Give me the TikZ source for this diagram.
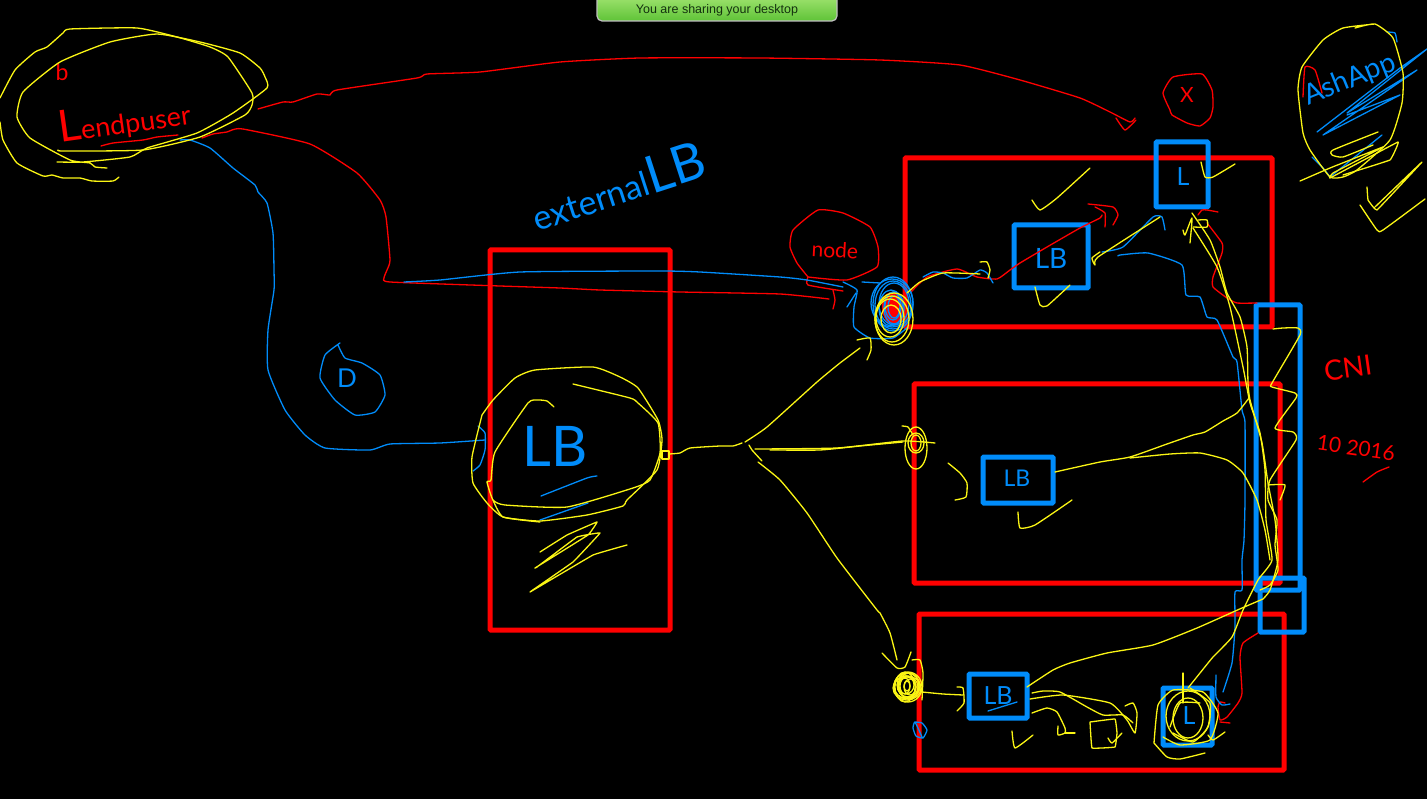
\documentclass[tikz,border=0pt]{standalone}
\usepackage{fontspec}
\setmainfont{Liberation Sans}
\newfontfamily\handfont{Lato}
\definecolor{penred}{RGB}{255,0,0}
\definecolor{penblue}{RGB}{0,140,250}
\definecolor{penyellow}{RGB}{250,245,20}
\definecolor{bartop}{RGB}{175,235,125}
\definecolor{barbot}{RGB}{95,195,55}
\definecolor{bartext}{RGB}{20,50,15}

\begin{document}
\begin{tikzpicture}[x=1pt,y=-1pt,
	pen/.style={line width=1.3pt,line cap=round,line join=round,smooth,tension=.3},
	redpen/.style={pen,draw=penred},
	bluepen/.style={pen,draw=penblue},
	yellowpen/.style={pen,draw=penyellow},
	redbox/.style={draw=penred,line width=5pt,rounded corners=1pt},
	bluebox/.style={draw=penblue,line width=5pt,rounded corners=1pt},
	hand/.style={font=\handfont,inner sep=0pt}]
	\fill[black] (0,0) rectangle (1427,799);
	\useasboundingbox (0,0) rectangle (1427,799);
	\begin{scope}[every path/.append style={redbox}]
		\draw (490,250) rectangle (670,630);
		\draw (905,158) rectangle (1272,327);
		\draw (914,384) rectangle (1280,583);
		\draw (919,614) rectangle (1284,770);
	\end{scope}
	\begin{scope}[every path/.append style={bluebox}]
		\draw (1156,142) rectangle (1208,207);
		\draw (1014,225) rectangle (1088,288);
		\draw (983,457) rectangle (1053,503);
		\draw (969,674) rectangle (1027,718);
		\draw (1163,688) rectangle (1212,745);
		\draw (1256,305) rectangle (1300,590);
		\draw (1260,578) rectangle (1304,632);
	\end{scope}

	\shade[top color=bartop,bottom color=barbot,draw=lightgray,line width=1.2pt,rounded corners=5pt]
		(597,-10) rectangle (837,21);
	\node[text=bartext,font=\fontsize{12.5}{14}\selectfont,inner sep=0pt] (sharebar) at (717,10) {You are sharing your desktop};

	\begin{scope}[every node/.style={hand,text=penred}]
		\node[font=\handfont\fontsize{23}{23}\selectfont] (userb) at (62,72) {b};
		\node[font=\handfont\fontsize{27}{27}\selectfont,rotate=8] (userlabel) at (124,120) {{\fontsize{44}{44}\selectfont L}endpuser};
		\node[font=\handfont\fontsize{21}{21}\selectfont,rotate=-3] (nodelabel) at (835,250) {node};
		\node[font=\handfont\fontsize{21}{21}\selectfont] (xlabel) at (1187,95) {X};
		\node[font=\handfont\fontsize{28}{28}\selectfont,rotate=8] (cnilabel) at (1348,368) {CNI};
		\node[font=\handfont\fontsize{21}{21}\selectfont,rotate=-8] (datelabel) at (1356,448) {10 2016};
	\end{scope}
	\begin{scope}[every node/.style={hand,text=penblue}]
		\node[font=\handfont\fontsize{34}{34}\selectfont,rotate=18] (extlabel) at (618,186) {external{\fontsize{52}{52}\selectfont LB}};
		\node[font=\handfont\fontsize{26}{26}\selectfont] (dlabel) at (347,378) {D};
		\node[font=\handfont\fontsize{56}{56}\selectfont] (biglb) at (555,446) {LB};
		\node[font=\handfont\fontsize{28}{28}\selectfont] (lbone) at (1051,258) {LB};
		\node[font=\handfont\fontsize{23}{23}\selectfont] (lbtwo) at (1017,478) {LB};
		\node[font=\handfont\fontsize{25}{25}\selectfont] (lbthree) at (998,696) {LB};
		\node[font=\handfont\fontsize{25}{25}\selectfont] (ltop) at (1183,177) {L};
		\node[font=\handfont\fontsize{25}{25}\selectfont] (lbot) at (1189,716) {L};
		\node[font=\handfont\fontsize{28}{28}\selectfont,rotate=22] (applabel) at (1350,80) {AshApp};
	\end{scope}

	\draw[redpen] plot coordinates {(101,146)(113,143)(143,140)(157,137)(178,135)};
	\draw[redpen] plot coordinates {(258,109)(283,102)(293,102)(317,94)(330,95)(337,90)(417,78)(427,74)(480,72)(560,62)(640,58)(760,58)(880,60)(960,65)(1020,80)(1080,98)(1110,112)(1130,122)(1135,118)};
	\draw[redpen] plot coordinates {(1116,118)(1125,130)(1136,120)};
	\draw[redpen] plot coordinates {(202,138)(213,134)(227,132)(232,130)(243,129)(310,144)(357,173)(380,200)(386,217)(390,260)(387,270)(384,278)(390,282)(500,286)(560,288)(600,290)(680,292)(780,294)(829,299)};
	\draw[redpen] plot coordinates {(833,290)(835,300)(833,309)};
	\draw[redpen] plot coordinates {(808,277)(808,285)(843,291)};
	\draw[redpen] plot coordinates {(808,277)(797,263)(790,247)(793,230)(818,210)(843,213)(870,227)(878,247)(877,267)(847,280)(808,277)};
	\draw[redpen] plot coordinates {(1170,110)(1163,93)(1173,77)(1202,74)(1212,90)(1213,107)(1210,118)(1200,126)(1187,123)(1172,115)(1170,110)};
	\draw[redpen] plot coordinates {(910,293)(927,277)(957,269)(977,277)(997,279)(1010,270)(1020,263)(1047,247)(1080,228)(1100,218)(1102,215)};
	\draw[redpen] plot coordinates {(1088,204)(1113,207)(1118,215)(1113,225)};
	\draw[redpen] plot coordinates {(1095,207)(1105,213)(1105,227)};
	\draw[redpen] plot coordinates {(1198,215)(1202,210)(1207,210)(1218,212)};
	\draw[redpen] plot coordinates {(1207,223)(1222,243)(1222,253)(1213,277)(1213,287)(1227,298)(1237,303)(1257,303)};
	\draw[redpen] plot coordinates {(1258,633)(1243,643)(1240,657)(1242,693)(1238,703)(1227,717)(1220,720)(1218,707)(1220,702)(1225,703)};
	\draw[redpen] plot coordinates {(1220,722)(1230,723)};
	\draw[redpen] plot coordinates {(1303,97)(1305,67)(1315,70)(1322,93)};
	\draw[redpen] plot coordinates {(1363,482)(1377,472)(1389,467)};

	\fill[penred,rotate around={10:(893,309)}] (893,309) ellipse (11 and 17);

	\draw[bluepen] plot coordinates {(180,140)(190,140)(210,148)(233,168)(255,185)(258,192)(267,203)(273,233)(274,270)(274,290)(268,330)(268,370)(285,410)(305,435)(325,448)(370,450)(390,444)(440,443)(485,440)};
	\draw[bluepen] plot coordinates {(478,426)(485,433)(485,450)(480,465)(473,471)};
	\draw[bluepen] plot coordinates {(340,343)(325,355)(320,378)(335,400)(355,415)(375,412)(385,395)(380,375)(362,363)(345,358)(338,345)};
	\draw[bluepen] plot coordinates {(404,282)(440,280)(520,272)(660,271)(700,272)(780,277)(807,280)(843,287)};
	\draw[bluepen] plot coordinates {(843,282)(857,290)(854,307)(854,327)(870,338)(893,338)(908,327)};
	\draw[bluepen] plot coordinates {(862,282)(880,283)};
	\draw[bluepen] plot coordinates {(847,307)(856,293)};
	\draw[bluepen] plot coordinates {(923,277)(933,272)(943,273)(953,278)(967,278)(980,270)(987,273)(993,283)};
	\draw[bluepen] plot coordinates {(1102,252)(1123,247)(1153,217)(1162,217)(1165,230)};
	\draw[bluepen] plot coordinates {(1118,256)(1120,255)(1148,253)(1182,265)(1186,295)(1200,297)(1207,317)(1217,320)(1233,357)(1237,362)(1242,410)(1245,423)(1245,500)(1244,540)(1242,560)(1242,590)(1235,592)(1235,627)(1232,663)(1223,692)};
	\draw[bluepen] plot coordinates {(1216,675)(1216,697)(1222,705)(1230,704)};
	\draw[bluepen] plot coordinates {(541,496)(587,478)(597,476)};
	\draw[bluepen] plot coordinates {(540,520)(588,503)};
	\draw[bluepen] plot coordinates {(988,711)(1017,702)};
	\draw[bluepen] plot coordinates {(915,722)(922,723)(927,730)(923,738)(916,736)(913,728)(915,722)(922,737)};
	\draw[bluepen,tension=0] plot coordinates {(1317,132)(1400,68)(1427,49)(1347,113)(1417,70)(1323,135)(1400,95)(1347,115)};
	\draw[bluepen] plot coordinates {(1382,135)(1330,177)};
	\draw[bluepen] plot coordinates {(1312,157)(1323,168)(1330,177)};
	\draw[bluepen] plot coordinates {(1387,32)(1395,33)(1397,42)};
	\foreach \rx/\ry/\dx/\dy in {6/11/1/1,8/14/0/0,10/16/1/2,12/18/-2/2,15/21/1/-2,18/24/0/-1,20/27/0/-2,21/24/-1/-3} {
		\draw[bluepen] (893+\dx,306+\dy) ellipse (\rx pt and \ry pt);
	}

	\foreach \rx/\ry/\dx/\dy in {10/14/-2/6,14/19/-3/5,17/23/-1/6,19/26/1/6} {
		\draw[yellowpen] (893+\dx,313+\dy) ellipse (\rx pt and \ry pt);
	}
	\draw[yellowpen] plot coordinates {(0,98)(15,70)(35,52)(47,47)(63,33)(70,29)(137,28)(177,37)(210,47)(228,57)(252,93)(252,105)(245,115)(200,137)(143,150)(63,151)(58,150)};
	\draw[yellowpen] plot coordinates {(57,162)(83,162)(130,157)(147,148)(197,133)(233,113)(267,88)(265,77)(260,68)(240,53)(200,42)(157,34)(110,42)(60,62)(23,92)(17,117)(30,138)(70,160)(90,163)(95,167)(107,168)};
	\draw[yellowpen] plot coordinates {(0,122)(3,140)(17,163)(43,176)(52,175)(63,178)(80,178)(92,181)(113,181)(119,177)};
	\draw[yellowpen] plot coordinates {(907,293)(920,282)(943,273)(980,274)};
	\draw[yellowpen] plot coordinates {(980,262)(987,262)(990,270)(988,278)};
	\draw[yellowpen] plot coordinates {(1032,200)(1040,210)(1057,198)(1090,168)};
	\draw[yellowpen] plot coordinates {(1035,287)(1040,305)(1047,306)(1070,285)};
	\draw[yellowpen] plot coordinates {(1100,252)(1092,258)(1095,265)(1098,257)(1160,217)};
	\draw[yellowpen] plot coordinates {(1201,162)(1205,177)(1213,177)(1235,164)};
	\draw[yellowpen] plot coordinates {(1192,213)(1210,240)(1220,267)(1227,293)(1240,317)(1247,347)(1248,383)(1250,400)(1262,443)(1268,483)(1275,520)(1278,560)(1270,590)(1263,599)};
	\draw[yellowpen] plot coordinates {(1193,228)(1217,267)(1230,307)(1243,367)(1250,403)(1260,433)(1265,470)(1266,520)(1272,560)(1258,580)(1243,610)(1232,637)(1213,657)(1200,673)(1188,688)};
	\draw[yellowpen] plot coordinates {(1027,687)(1053,670)(1070,663)(1107,653)(1153,645)(1197,628)(1242,608)(1263,599)};
	\draw[yellowpen] plot coordinates {(1183,230)(1185,235)(1192,218)(1190,243)};
	\draw[yellowpen] plot coordinates {(1193,227)(1207,227)(1207,220)(1198,220)};
	\draw[yellowpen] plot coordinates {(1273,329)(1283,328)(1298,328)(1300,335)(1272,383)(1272,387)(1295,393)(1296,398)(1275,428)(1293,432)(1296,440)(1270,480)(1268,500)(1277,520)(1275,545)(1278,570)(1270,585)(1260,590)};
	\draw[yellowpen] plot coordinates {(1268,485)(1285,485)(1280,500)};
	\draw[yellowpen] plot coordinates {(1055,472)(1100,462)(1130,457)(1167,444)(1193,435)(1205,432)(1223,421)(1237,413)(1249,398)};
	\draw[yellowpen] plot coordinates {(1130,458)(1170,454)(1200,453)(1227,460)(1243,473)(1257,500)(1265,530)(1270,560)};
	\draw[yellowpen] (662,451) rectangle (669,459);
	\draw[yellowpen] plot coordinates {(669,454)(680,453)(690,448)(720,446)(733,446)(742,443)};
	\draw[yellowpen] plot coordinates {(745,442)(767,427)(817,382)(840,363)(860,348)};
	\draw[yellowpen] plot coordinates {(857,340)(870,338)(871,350)(867,360)};
	\draw[yellowpen] plot coordinates {(755,449)(837,448)(903,441)(935,443)};
	\draw[yellowpen] plot coordinates {(770,450)(820,450)(860,446)(903,442)};
	\draw[yellowpen] plot coordinates {(749,445)(752,450)(762,461)};
	\draw[yellowpen] plot coordinates {(758,462)(780,480)(807,513)(837,558)(877,610)(880,613)(890,633)(897,660)};
	\draw[yellowpen] plot coordinates {(882,653)(897,668)(905,667)(911,652)};
	\draw[yellowpen] (916,448) ellipse (11 and 21);
	\draw[yellowpen] (916,443) ellipse (8 and 10);
	\draw[yellowpen] (916,443) ellipse (5 and 8);
	\draw[yellowpen] plot coordinates {(902,426)(908,427)(913,435)};
	\draw[yellowpen] plot coordinates {(948,463)(960,473)(967,483)(966,497)(955,500)};
	\draw[yellowpen] plot coordinates {(1018,512)(1020,528)(1035,525)(1072,500)};
	\draw[yellowpen] plot coordinates {(482,415)(493,400)(515,378)(535,370)(593,367)(620,377)(638,388)(658,420)(662,440)(657,470)(627,500)(623,506)(587,515)(540,521)(503,517)(487,503)(473,483)(472,457)(482,415)};
	\draw[yellowpen] plot coordinates {(554,407)(547,401)(538,400)(528,403)(495,452)(491,480)(487,482)(493,500)(505,505)(567,507)(633,488)(650,480)(660,453)(658,423)(638,403)(630,398)(573,384)};
	\draw[yellowpen] plot coordinates {(493,500)(503,517)(540,522)};
	\draw[yellowpen,tension=.1] plot coordinates {(540,552)(567,535)(597,522)(588,535)(535,568)(537,567)(577,537)(600,533)(573,562)(530,592)(593,555)(627,545)};
	\draw[yellowpen] plot coordinates {(1355,28)(1375,24)(1393,38)(1403,73)(1402,103)(1390,140)(1357,170)(1343,177)(1330,177)(1310,150)(1303,133)(1298,90)(1302,67)(1323,40)(1343,28)(1375,24)};
	\draw[yellowpen,tension=.1] plot coordinates {(1300,181)(1330,168)(1383,147)(1333,173)(1330,178)(1398,142)(1390,160)(1343,175)};
	\draw[yellowpen] plot coordinates {(1378,132)(1333,150)(1332,155)(1343,157)(1373,145)};
	\draw[yellowpen,tension=.1] plot coordinates {(1367,187)(1368,200)(1377,210)(1422,162)(1375,207)};
	\draw[yellowpen] plot coordinates {(1360,205)(1377,230)(1383,230)(1425,199)};
	\foreach \rx/\ry/\dx/\dy in {3/5/0/0,5/8/-2/0,6/8/3/1,8/9/-1/-1,9/10/0/1,10/13/2/0,11/12/1/-1,12/11/-1/1,13/13/0/0,14/15/1/1,10/15/-2/1,14/12/0/2} {
		\draw[yellowpen] (907+\dx,686+\dy) ellipse (\rx pt and \ry pt);
	}
	\draw[yellowpen] plot coordinates {(912,660)(920,660)(923,673)(922,700)};
	\draw[yellowpen] plot coordinates {(922,692)(943,694)(963,695)};
	\draw[yellowpen] plot coordinates {(957,687)(963,688)(964,703)(957,711)};
	\draw[yellowpen] plot coordinates {(1032,693)(1043,691)(1060,692)(1087,707)(1103,715)(1123,715)(1133,723)};
	\draw[yellowpen] plot coordinates {(1030,699)(1063,695)(1110,703)(1127,720)(1135,733)(1137,713)(1133,703)(1125,706)};
	\draw[yellowpen] plot coordinates {(1032,713)(1047,708)(1057,712)(1065,728)(1065,733)(1058,735)(1058,726)};
	\draw[yellowpen] plot coordinates {(1065,733)(1075,733)};
	\draw[yellowpen] plot coordinates {(1012,731)(1015,748)(1033,735)};
	\draw[yellowpen,tension=.1] plot coordinates {(1090,722)(1115,719)(1117,733)(1115,747)(1092,748)(1090,722)};
	\draw[yellowpen] plot coordinates {(1108,738)(1112,743)(1122,733)};
	\draw[yellowpen] plot coordinates {(1154,743)(1167,757)(1180,759)(1205,753)};
	\draw[yellowpen] plot coordinates {(1154,743)(1158,705)(1173,690)(1203,692)(1218,713)(1210,740)(1180,745)(1163,737)};
	\draw[yellowpen] plot coordinates {(1170,727)(1180,703)(1200,703)};
	\draw[yellowpen] plot coordinates {(1173,733)(1193,742)(1208,727)(1210,703)(1190,688)};
	\draw[yellowpen] (1188,716) ellipse (22 and 25);
	\draw[yellowpen] (1188,718) ellipse (15 and 20);
	\draw[yellowpen] plot coordinates {(1183,673)(1183,703)};
	\draw[yellowpen] plot coordinates {(1208,735)(1213,740)(1225,732)};
\end{tikzpicture}
\end{document}
